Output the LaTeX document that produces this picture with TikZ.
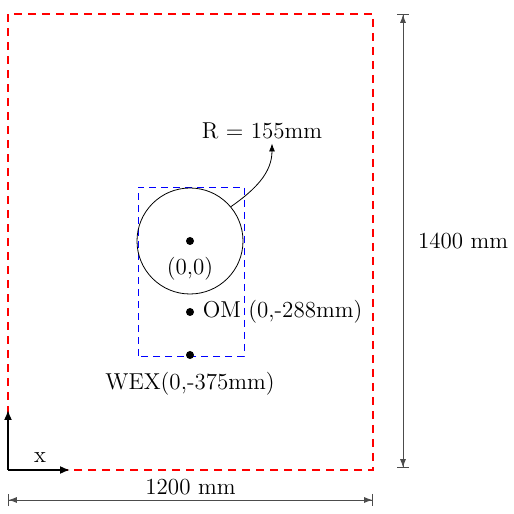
\documentclass[tikz,border=0pt]{standalone}
\usetikzlibrary{arrows.meta,positioning}
\tikzstyle{frame} = [draw=red, thick, dash pattern=on 4pt off 3pt]
\tikzstyle{zone} = [draw=blue, dash pattern=on 3.5pt off 2.5pt]
\tikzstyle{dot} = [circle, fill=black, inner sep=0pt, minimum size=4pt]
\tikzstyle{axis} = [thick,-{Latex[length=5pt,width=4pt]}]
\tikzstyle{dim} = [draw=black!70, {Bar[width=6pt]Latex[length=4pt,width=3pt]}-{Latex[length=4pt,width=3pt]Bar[width=6pt]}]

\begin{document}
\begin{tikzpicture}[x=0.5pt, y=0.5pt, font=\fontsize{11.5}{14}\selectfont]
\useasboundingbox (-8,-44) rectangle (506,470);
				% outer frame and zone
				\draw [frame] (0,0) rectangle (365,456);
				\draw [zone] (130,114) rectangle (236,283);
				\node (disc) [circle, draw, minimum size=53pt, inner sep=0pt] at (182,229) {};
				\node (centre) [dot] at (182,229) {};
				\node (centrelabel) [below=5.5pt of centre, inner sep=0pt] {(0,0)};
				\node (om) [dot] at (182,158) {};
				\node (omlabel) [right=4pt of om, inner sep=0pt] {OM (0,-288mm)};
				\node (wex) [dot] at (182,115) {};
				\node (wexlabel) [below=6pt of wex, inner sep=0pt] {WEX(0,-375mm)};
				\node (radius) [inner sep=2pt] at (254,339) {R = 155mm};
				\draw [-{Latex[length=4pt,width=3pt]}] (disc.40) to[out=35, in=-90] ([xshift=5pt]radius.south);
				% axes
				\coordinate (orig) at (0,0);
				\coordinate (xend) at (62,0);
				\coordinate (yend) at (0,60);
				\draw [axis] (orig) -- (xend);
				\draw [axis] (orig) -- (yend);
				\node (xlabel) at (32,12) {x};
				% dimensions
				\coordinate (h0) at (0,-30);
				\coordinate (h1) at (365,-30);
				\draw [dim] (h0) -- (h1) node (width) [midway, above=-1pt] {1200 mm};
				\coordinate (v0) at (395,2);
				\coordinate (v1) at (395,456);
				\draw [dim] (v0) -- (v1) node (height) [midway, right=4pt] {1400 mm};
			\end{tikzpicture}
\end{document}
